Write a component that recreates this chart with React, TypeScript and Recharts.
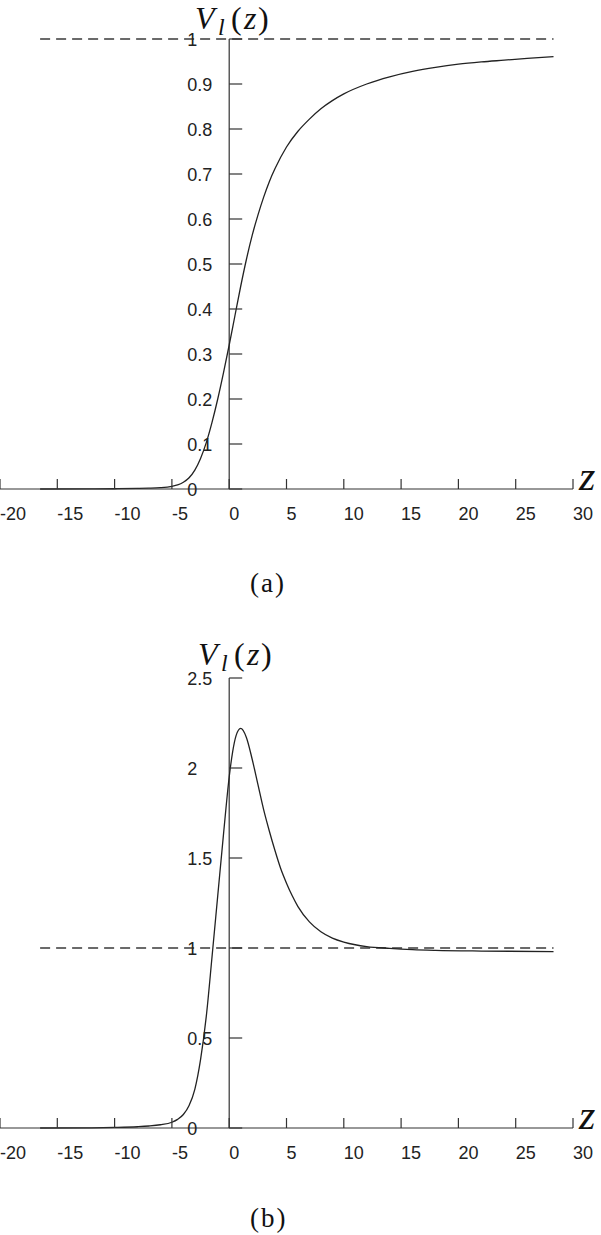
import React from 'react';
import { LineChart, Line, XAxis, YAxis, ReferenceLine } from 'recharts';

// z samples and V_l(z) values
const zTop = [-16.5, -12, -10, -8, -7, -6, -5, -4.5, -4, -3.5, -3, -2.5, -2, -1.5, -1, -0.5, 0, 0.5, 1, 1.5, 2, 2.5, 3, 3.5, 4, 5, 6, 7, 8, 9, 10, 12, 14, 16, 18, 20, 22, 24, 26, 28.3];
const vTop = [0, 0.0003, 0.0006, 0.0012, 0.0018, 0.003, 0.006, 0.009, 0.015, 0.025, 0.042, 0.068, 0.103, 0.148, 0.2, 0.258, 0.32, 0.385, 0.45, 0.51, 0.563, 0.608, 0.648, 0.683, 0.712, 0.76, 0.795, 0.822, 0.845, 0.863, 0.878, 0.9, 0.916, 0.928, 0.937, 0.944, 0.949, 0.953, 0.957, 0.961];

const zBottom = [-16.5, -12, -10, -8, -7, -6, -5, -4.5, -4, -3.5, -3, -2.5, -2, -1.5, -1, -0.5, 0, 0.3, 0.6, 1.0, 1.5, 2, 2.5, 3, 3.5, 4, 4.5, 5, 5.5, 6, 7, 8, 9, 10, 11, 12, 14, 16, 18, 22, 28.3];
const vBottom = [0, 0.001, 0.003, 0.007, 0.011, 0.018, 0.032, 0.048, 0.075, 0.125, 0.215, 0.38, 0.62, 0.95, 1.29, 1.63, 1.95, 2.09, 2.18, 2.22, 2.17, 2.05, 1.91, 1.77, 1.65, 1.54, 1.44, 1.36, 1.29, 1.23, 1.145, 1.09, 1.055, 1.033, 1.018, 1.008, 0.998, 0.991, 0.987, 0.983, 0.98];

const xTicks = [-20, -15, -10, -5, 0, 5, 10, 15, 20, 25, 30];
const yTicksTop = [0, 0.1, 0.2, 0.3, 0.4, 0.5, 0.6, 0.7, 0.8, 0.9, 1];
const yTicksBottom = [0, 0.5, 1, 1.5, 2, 2.5];

const asymptote = 1;

const W = 601;
const H = 560;
const PAGE_H = 1235;
const BOTTOM_TOP = 639;
const margin = { top: 39, right: 28, bottom: 31, left: 0 };
const xMin = -20;
const xMax = 30;
const plotW = W - margin.left - margin.right;
const X0 = margin.left + ((0 - xMin) / (xMax - xMin)) * plotW;

const axisColor = '#333';
const sans = '"Liberation Sans", Arial, Helvetica, sans-serif';
const serif = '"Liberation Serif", "Times New Roman", serif';

const XTick = (props: any) => {
  const { x, y, payload } = props;
  return (
    <g>
      <line x1={x} y1={y} x2={x} y2={y - 10} stroke={axisColor} strokeWidth={1.2} />
      <text x={x} y={y + 31} textAnchor="start" fontSize={18} fontFamily={sans} fill="#222">
        {payload.value}
      </text>
    </g>
  );
};

const YTick = (props: any) => {
  const { y, payload } = props;
  return (
    <g>
      <line x1={X0} y1={y} x2={X0 + 13} y2={y} stroke={axisColor} strokeWidth={1.2} />
      <text x={X0 - 42} y={y + 6.5} textAnchor="start" fontSize={18} fontFamily={sans} fill="#222">
        {payload.value}
      </text>
    </g>
  );
};

const Panel = ({ zs, vs, yMax, yTicks, top }: any) => {
  const data = zs.map((z: number, i: number) => ({ z, v: vs[i] }));
  return (
    <div style={{ position: 'absolute', left: 0, top, width: W, height: H }}>
      <LineChart width={W} height={H} data={data} margin={margin}>
        <XAxis
          type="number"
          dataKey="z"
          domain={[xMin, xMax]}
          ticks={xTicks}
          interval={0}
          tick={<XTick />}
          tickLine={false}
          tickSize={0}
          tickMargin={0}
          height={40}
          axisLine={{ stroke: axisColor, strokeWidth: 1.2 }}
        />
        <YAxis
          type="number"
          domain={[0, yMax]}
          ticks={yTicks}
          interval={0}
          mirror
          tick={<YTick />}
          tickLine={false}
          tickSize={0}
          tickMargin={0}
          axisLine={false}
        />
        <ReferenceLine x={0} stroke={axisColor} strokeWidth={1.2} />
        <ReferenceLine
          segment={[{ x: zs[0], y: asymptote }, { x: zs[zs.length - 1], y: asymptote }]}
          stroke="#3a3a3a"
          strokeWidth={1.3}
          strokeDasharray="10 6"
        />
        <Line
          type="monotone"
          dataKey="v"
          stroke="#222"
          strokeWidth={1.3}
          dot={false}
          isAnimationActive={false}
        />
      </LineChart>
    </div>
  );
};

// V_l(z) heading drawn with separate glyph positions
const Heading = ({ x, y }: { x: number; y: number }) => (
  <text fontFamily={serif} fill="#111" y={y}>
    <tspan x={x} y={y} fontSize={32} fontStyle="italic">V</tspan>
    <tspan x={x + 23} y={y + 6} fontSize={24} fontStyle="italic">l</tspan>
    <tspan x={x + 36} y={y} fontSize={32}>(</tspan>
    <tspan x={x + 49} y={y} fontSize={32} fontStyle="italic">z</tspan>
    <tspan x={x + 63} y={y} fontSize={32}>)</tspan>
  </text>
);

export default function App() {
  return (
    <div
      style={{
        position: 'absolute',
        left: 0,
        top: 0,
        width: W,
        height: PAGE_H,
        overflow: 'hidden',
        background: '#fff',
      }}
    >
      <Panel zs={zTop} vs={vTop} yMax={1} yTicks={yTicksTop} top={0} />
      <Panel zs={zBottom} vs={vBottom} yMax={2.5} yTicks={yTicksBottom} top={BOTTOM_TOP} />
      <svg
        width={W}
        height={PAGE_H}
        style={{ position: 'absolute', left: 0, top: 0, pointerEvents: 'none' }}
      >
        <Heading x={195} y={29} />
        <Heading x={198} y={665} />
        <text x={579} y={490} fontFamily={serif} fontSize={42} fontStyle="italic" fill="#111">z</text>
        <text x={579} y={1129} fontFamily={serif} fontSize={42} fontStyle="italic" fill="#111">z</text>
        <text x={250} y={592} fontFamily={serif} fontSize={27} letterSpacing={2} fill="#111">(a)</text>
        <text x={250} y={1227} fontFamily={serif} fontSize={27} letterSpacing={2} fill="#111">(b)</text>
      </svg>
    </div>
  );
}
